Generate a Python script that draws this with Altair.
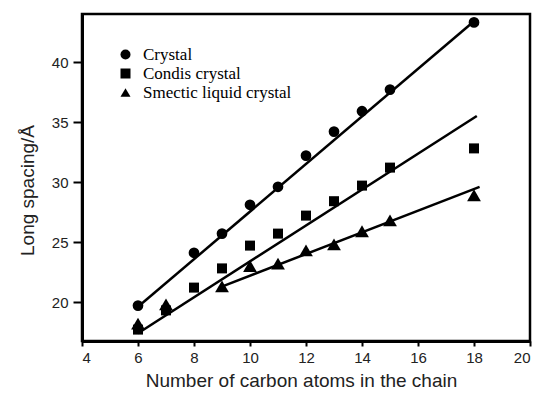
import altair as alt
import pandas as pd

# Measured long spacings (Å) against number of carbon atoms in the chain
crystal_n = [6, 8, 9, 10, 11, 12, 13, 14, 15, 18]
crystal_d = [19.7, 24.1, 25.7, 28.1, 29.6, 32.2, 34.2, 35.9, 37.7, 43.3]

condis_n = [6, 7, 8, 9, 10, 11, 12, 13, 14, 15, 18]
condis_d = [17.7, 19.3, 21.2, 22.8, 24.7, 25.7, 27.2, 28.4, 29.7, 31.2, 32.8]

smectic_n = [6, 7, 9, 10, 11, 12, 13, 14, 15, 18]
smectic_d = [18.2, 19.8, 21.3, 23.0, 23.2, 24.3, 24.8, 25.9, 26.8, 28.9]

# End points of the fitted straight lines for each phase
fit_series = ["Crystal", "Crystal", "Condis crystal", "Condis crystal",
              "Smectic liquid crystal", "Smectic liquid crystal"]
fit_n = [6.0, 18.0, 6.0, 18.1, 8.9, 18.2]
fit_d = [19.6, 43.4, 17.4, 35.5, 21.2, 29.6]

series_names = ["Crystal", "Condis crystal", "Smectic liquid crystal"]
shapes = ["circle", "square", "triangle-up"]
symbol_sizes = [115, 100, 190]

points = pd.DataFrame({
    "series": (["Crystal"] * len(crystal_n)
               + ["Condis crystal"] * len(condis_n)
               + ["Smectic liquid crystal"] * len(smectic_n)),
    "n": crystal_n + condis_n + smectic_n,
    "d": crystal_d + condis_d + smectic_d,
})
fits = pd.DataFrame({"series": fit_series, "n": fit_n, "d": fit_d})

x_scale = alt.Scale(domain=[4, 20], nice=False, zero=False)
y_scale = alt.Scale(domain=[16.75, 44.0], nice=False, zero=False)
shape_scale = alt.Scale(domain=series_names, range=shapes)

x_axis = alt.Axis(
    title="Number of carbon atoms in the chain",
    values=[4, 6, 8, 10, 12, 14, 16, 18, 20],
    grid=False, tickSize=5, labelPadding=4, titlePadding=6, titleX=219,
)
y_axis = alt.Axis(
    title="Long spacing/Å",
    values=[20, 25, 30, 35, 40],
    grid=False, tickSize=9, labelPadding=5, titlePadding=14, titleY=176,
)

legend = alt.Legend(
    title=None,
    orient="none",
    legendX=35,
    legendY=32,
    labelFont="Liberation Serif",
    labelFontSize=17,
    labelColor="black",
    symbolSize=100,
    symbolFillColor="black",
    symbolStrokeColor="black",
    symbolOpacity=1,
    labelOffset=9,
    rowPadding=1,
    padding=0,
)

lines = alt.Chart(fits).mark_line(color="black", strokeWidth=2.5).encode(
    x=alt.X("n:Q", scale=x_scale, axis=x_axis),
    y=alt.Y("d:Q", scale=y_scale, axis=y_axis),
    detail="series:N",
)

# One point layer per phase so each symbol can have its own size
point_layers = [
    alt.Chart(points)
    .transform_filter(alt.datum.series == name)
    .mark_point(filled=True, color="black", opacity=1, size=size)
    .encode(
        x=alt.X("n:Q", scale=x_scale),
        y=alt.Y("d:Q", scale=y_scale),
        shape=alt.Shape("series:N", scale=shape_scale, legend=legend),
    )
    for name, size in zip(series_names, symbol_sizes)
]

chart = (
    alt.layer(lines, *point_layers)
    .properties(
        width=448,
        height=327,
        autosize=alt.AutoSizeParams(type="none"),
        padding={"left": 82, "top": 14, "right": 9, "bottom": 53},
    )
    .configure(background="white")
    .configure_view(stroke="black", strokeWidth=2.5)
    .configure_axis(
        domainColor="black",
        domainWidth=3,
        tickColor="black",
        tickWidth=2,
        labelFont="Liberation Sans",
        labelFontSize=15,
        labelColor="#222222",
        titleFont="Liberation Sans",
        titleFontSize=19,
        titleFontWeight="normal",
        titleColor="#222222",
    )
)

chart.save("out.html", embed_options={"renderer": "svg", "actions": False})
